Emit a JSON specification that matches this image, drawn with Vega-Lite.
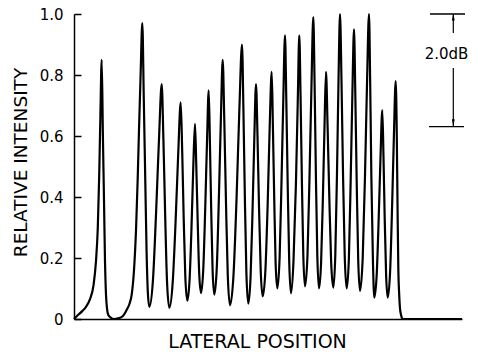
{
  "$schema": "https://vega.github.io/schema/vega-lite/v6.json",
  "width": 388,
  "height": 305,
  "autosize": {"type": "none"},
  "padding": {"left": 74, "top": 14, "right": 19, "bottom": 35},
  "background": "white",
  "config": {
    "view": {"stroke": null},
    "font": "DejaVu Sans",
    "axis": {"grid": false, "domainColor": "black", "tickColor": "black", "labelColor": "black", "titleColor": "black", "titleFontWeight": "normal", "domainWidth": 1.5}
  },
  "datasets": {
    "curve": [
      {"pos": 0, "intensity": 0}, {"pos": 3, "intensity": 0.01}, {"pos": 8, "intensity": 0.025}, {"pos": 12, "intensity": 0.04},
      {"pos": 16, "intensity": 0.065}, {"pos": 19.5, "intensity": 0.11}, {"pos": 22, "intensity": 0.19}, {"pos": 23.8, "intensity": 0.3},
      {"pos": 25.2, "intensity": 0.47}, {"pos": 26.3, "intensity": 0.65}, {"pos": 27.7, "intensity": 0.85}, {"pos": 28.9, "intensity": 0.6},
      {"pos": 30, "intensity": 0.39}, {"pos": 31, "intensity": 0.19}, {"pos": 32, "intensity": 0.08}, {"pos": 33, "intensity": 0.035},
      {"pos": 34.3, "intensity": 0.013}, {"pos": 37, "intensity": 0.004}, {"pos": 39.3, "intensity": 0}, {"pos": 44, "intensity": 0.002},
      {"pos": 49, "intensity": 0.01}, {"pos": 52.7, "intensity": 0.03}, {"pos": 55.5, "intensity": 0.05}, {"pos": 57.7, "intensity": 0.08},
      {"pos": 60, "intensity": 0.16}, {"pos": 62, "intensity": 0.29}, {"pos": 63.7, "intensity": 0.46}, {"pos": 65, "intensity": 0.62},
      {"pos": 66.6, "intensity": 0.8}, {"pos": 68.3, "intensity": 0.97}, {"pos": 69.8, "intensity": 0.72}, {"pos": 71.3, "intensity": 0.45},
      {"pos": 72.6, "intensity": 0.22}, {"pos": 73.8, "intensity": 0.09}, {"pos": 75.3, "intensity": 0.04},
      {"pos": 79.0, "intensity": 0.13}, {"pos": 82.1, "intensity": 0.35}, {"pos": 85.0, "intensity": 0.59}, {"pos": 87.7, "intensity": 0.77},
      {"pos": 89.4, "intensity": 0.59}, {"pos": 91.1, "intensity": 0.35}, {"pos": 93.0, "intensity": 0.125}, {"pos": 95.3, "intensity": 0.037},
      {"pos": 98.7, "intensity": 0.12}, {"pos": 101.6, "intensity": 0.32}, {"pos": 104.2, "intensity": 0.54}, {"pos": 106.7, "intensity": 0.71},
      {"pos": 108.2, "intensity": 0.55}, {"pos": 109.7, "intensity": 0.33}, {"pos": 111.3, "intensity": 0.14}, {"pos": 113.3, "intensity": 0.06},
      {"pos": 115.6, "intensity": 0.13}, {"pos": 117.5, "intensity": 0.3}, {"pos": 119.3, "intensity": 0.5}, {"pos": 121, "intensity": 0.64},
      {"pos": 122.3, "intensity": 0.5}, {"pos": 123.7, "intensity": 0.32}, {"pos": 125.2, "intensity": 0.15}, {"pos": 127, "intensity": 0.085},
      {"pos": 129.3, "intensity": 0.165}, {"pos": 131.2, "intensity": 0.36}, {"pos": 133.0, "intensity": 0.58}, {"pos": 134.7, "intensity": 0.75},
      {"pos": 135.9, "intensity": 0.58}, {"pos": 137.2, "intensity": 0.36}, {"pos": 138.6, "intensity": 0.16}, {"pos": 140.3, "intensity": 0.08},
      {"pos": 142.8, "intensity": 0.17}, {"pos": 144.9, "intensity": 0.4}, {"pos": 146.9, "intensity": 0.66}, {"pos": 148.7, "intensity": 0.85},
      {"pos": 150.3, "intensity": 0.65}, {"pos": 152.0, "intensity": 0.38}, {"pos": 153.8, "intensity": 0.14}, {"pos": 156, "intensity": 0.045},
      {"pos": 159.6, "intensity": 0.15}, {"pos": 162.6, "intensity": 0.4}, {"pos": 165.4, "intensity": 0.69}, {"pos": 168, "intensity": 0.9},
      {"pos": 169.4, "intensity": 0.69}, {"pos": 170.8, "intensity": 0.41}, {"pos": 172.4, "intensity": 0.15}, {"pos": 174.3, "intensity": 0.05},
      {"pos": 176.6, "intensity": 0.14}, {"pos": 178.5, "intensity": 0.35}, {"pos": 180.3, "intensity": 0.59}, {"pos": 182, "intensity": 0.77},
      {"pos": 183.5, "intensity": 0.6}, {"pos": 185.0, "intensity": 0.37}, {"pos": 186.7, "intensity": 0.16}, {"pos": 188.7, "intensity": 0.074},
      {"pos": 191.4, "intensity": 0.16}, {"pos": 193.7, "intensity": 0.38}, {"pos": 195.7, "intensity": 0.63}, {"pos": 197.7, "intensity": 0.81},
      {"pos": 198.9, "intensity": 0.63}, {"pos": 200.2, "intensity": 0.4}, {"pos": 201.6, "intensity": 0.185}, {"pos": 203.3, "intensity": 0.1},
      {"pos": 205.6, "intensity": 0.2}, {"pos": 207.5, "intensity": 0.45}, {"pos": 209.3, "intensity": 0.72}, {"pos": 211, "intensity": 0.93},
      {"pos": 212.3, "intensity": 0.72}, {"pos": 213.7, "intensity": 0.44}, {"pos": 215.2, "intensity": 0.19}, {"pos": 217, "intensity": 0.084},
      {"pos": 219.5, "intensity": 0.19}, {"pos": 221.9, "intensity": 0.44}, {"pos": 223.8, "intensity": 0.72}, {"pos": 225.3, "intensity": 0.93},
      {"pos": 226.6, "intensity": 0.72}, {"pos": 227.9, "intensity": 0.45}, {"pos": 229.3, "intensity": 0.21}, {"pos": 231, "intensity": 0.107},
      {"pos": 233.5, "intensity": 0.21}, {"pos": 235.6, "intensity": 0.48}, {"pos": 237.5, "intensity": 0.77}, {"pos": 239.3, "intensity": 0.99},
      {"pos": 240.6, "intensity": 0.77}, {"pos": 241.9, "intensity": 0.47}, {"pos": 243.3, "intensity": 0.21}, {"pos": 245, "intensity": 0.1},
      {"pos": 247.1, "intensity": 0.185}, {"pos": 248.9, "intensity": 0.4}, {"pos": 250.5, "intensity": 0.63}, {"pos": 252, "intensity": 0.81},
      {"pos": 253.6, "intensity": 0.63}, {"pos": 255.3, "intensity": 0.4}, {"pos": 257.1, "intensity": 0.19}, {"pos": 259.3, "intensity": 0.103},
      {"pos": 261.3, "intensity": 0.21}, {"pos": 263.0, "intensity": 0.48}, {"pos": 264.5, "intensity": 0.78}, {"pos": 266, "intensity": 1.0},
      {"pos": 267.5, "intensity": 0.78}, {"pos": 269.0, "intensity": 0.48}, {"pos": 270.7, "intensity": 0.21}, {"pos": 272.7, "intensity": 0.1},
      {"pos": 274.9, "intensity": 0.2}, {"pos": 276.7, "intensity": 0.46}, {"pos": 278.4, "intensity": 0.74}, {"pos": 280, "intensity": 0.95},
      {"pos": 281.3, "intensity": 0.74}, {"pos": 282.7, "intensity": 0.45}, {"pos": 284.2, "intensity": 0.195}, {"pos": 286, "intensity": 0.092},
      {"pos": 288.7, "intensity": 0.2}, {"pos": 291.0, "intensity": 0.47}, {"pos": 293.0, "intensity": 0.77}, {"pos": 295, "intensity": 1.0},
      {"pos": 296.2, "intensity": 0.77}, {"pos": 297.4, "intensity": 0.46}, {"pos": 299.0, "intensity": 0.18}, {"pos": 300.3, "intensity": 0.07},
      {"pos": 302.7, "intensity": 0.145}, {"pos": 304.7, "intensity": 0.33}, {"pos": 306.5, "intensity": 0.53}, {"pos": 308.3, "intensity": 0.685},
      {"pos": 309.5, "intensity": 0.53}, {"pos": 310.7, "intensity": 0.33}, {"pos": 312.1, "intensity": 0.145}, {"pos": 313.7, "intensity": 0.07},
      {"pos": 316.1, "intensity": 0.155}, {"pos": 318.1, "intensity": 0.37}, {"pos": 319.9, "intensity": 0.6}, {"pos": 321.7, "intensity": 0.78},
      {"pos": 322.8, "intensity": 0.6}, {"pos": 323.6, "intensity": 0.35}, {"pos": 324.3, "intensity": 0.17}, {"pos": 325.2, "intensity": 0.08},
      {"pos": 326, "intensity": 0.035}, {"pos": 327.3, "intensity": 0.01}, {"pos": 328.7, "intensity": 0}, {"pos": 340, "intensity": 0},
      {"pos": 388, "intensity": 0}
    ],
    "limits": [
      {"from": 356, "to": 391, "level": 1.0},
      {"from": 355, "to": 390, "level": 0.631}
    ],
    "shafts": [
      {"at": 379.3, "top": 1.0, "bottom": 0.938},
      {"at": 379.3, "top": 0.823, "bottom": 0.631}
    ],
    "heads": [
      {"at": 379.3, "level": 0.99, "dir": "up"},
      {"at": 379.3, "level": 0.643, "dir": "down"}
    ],
    "labels": [
      {"at": 372.5, "level": 0.87, "text": "2.0dB"}
    ]
  },
  "layer": [
    {
      "data": {"name": "curve"},
      "mark": {"type": "line", "interpolate": "monotone", "color": "black", "strokeWidth": 2.2},
      "encoding": {
        "x": {
          "field": "pos", "type": "quantitative",
          "scale": {"domain": [0, 388], "nice": false, "zero": false},
          "axis": {"ticks": false, "labels": false, "title": "LATERAL POSITION", "titleFont": "DejaVu Sans", "titleFontSize": 19, "titleX": 183, "titleY": 28, "titleBaseline": "alphabetic", "titleAlign": "center"}
        },
        "y": {
          "field": "intensity", "type": "quantitative",
          "scale": {"domain": [0, 1], "nice": false},
          "axis": {"values": [0, 0.2, 0.4, 0.6, 0.8, 1], "labelExpr": "datum.value == 0 ? '0' : format(datum.value, '.1f')", "labelFont": "DejaVu Sans", "labelFontSize": 15, "tickSize": -7, "tickWidth": 1.5, "labelPadding": 18, "title": "RELATIVE INTENSITY", "titleFont": "DejaVu Sans", "titleFontSize": 18.5, "titleX": -48, "titleY": 148, "titleAngle": 270, "titleBaseline": "alphabetic", "titleAlign": "center"}
        }
      }
    },
    {
      "data": {"name": "limits"},
      "mark": {"type": "rule", "color": "black", "strokeWidth": 1.3},
      "encoding": {
        "x": {"field": "from", "type": "quantitative", "scale": {"domain": [0, 388], "nice": false, "zero": false}},
        "x2": {"field": "to"},
        "y": {"field": "level", "type": "quantitative", "scale": {"domain": [0, 1], "nice": false}}
      }
    },
    {
      "data": {"name": "shafts"},
      "mark": {"type": "rule", "color": "black", "strokeWidth": 1.2},
      "encoding": {
        "x": {"field": "at", "type": "quantitative", "scale": {"domain": [0, 388], "nice": false, "zero": false}},
        "y": {"field": "top", "type": "quantitative", "scale": {"domain": [0, 1], "nice": false}},
        "y2": {"field": "bottom"}
      }
    },
    {
      "data": {"name": "heads"},
      "mark": {"type": "point", "filled": true, "color": "black", "opacity": 1, "size": 50},
      "encoding": {
        "x": {"field": "at", "type": "quantitative", "scale": {"domain": [0, 388], "nice": false, "zero": false}},
        "y": {"field": "level", "type": "quantitative", "scale": {"domain": [0, 1], "nice": false}},
        "shape": {"field": "dir", "type": "nominal", "scale": {"domain": ["up", "down"], "range": ["M0,-1L0.4,1L-0.4,1Z", "M0,1L0.4,-1L-0.4,-1Z"]}, "legend": null}
      }
    },
    {
      "data": {"name": "labels"},
      "mark": {"type": "text", "font": "DejaVu Sans", "fontSize": 15, "color": "black", "align": "center", "baseline": "middle"},
      "encoding": {
        "x": {"field": "at", "type": "quantitative", "scale": {"domain": [0, 388], "nice": false, "zero": false}},
        "y": {"field": "level", "type": "quantitative", "scale": {"domain": [0, 1], "nice": false}},
        "text": {"field": "text"}
      }
    }
  ]
}
